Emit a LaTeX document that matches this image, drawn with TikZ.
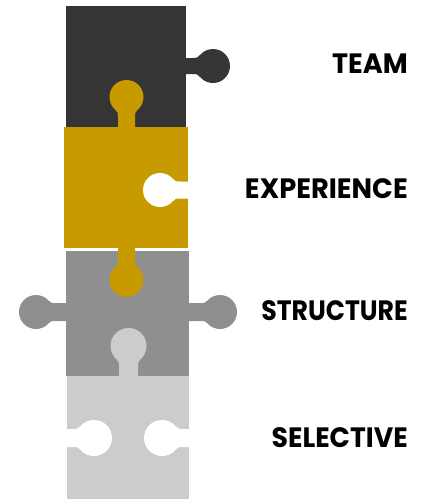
\documentclass[tikz,border=0pt]{standalone}
\usepackage{fontspec}
\setmainfont{Poppins}[BoldFont={* Bold}]
\definecolor{pdark}{RGB}{53,53,53}
\definecolor{pgold}{RGB}{199,155,0}
\definecolor{pgray}{RGB}{143,143,143}
\definecolor{plight}{RGB}{204,204,204}
% #1 colour, #2 distance of centre, #3 radius, #4 neck half width
\newcommand{\ptab}[4]{%
  \fill[#1] (#2,0) circle[radius=#3];
  \fill[#1] (-1,-#4) -- ({#2-#3-3},-#4)
    .. controls ({#2-#3+1},-#4) and ({#2+#3*cos(220)-2},{#3*sin(220)+2.3}) ..
    ({#2+#3*cos(220)},{#3*sin(220)})
    -- ({#2+#3*cos(220)},{-#3*sin(220)})
    .. controls ({#2+#3*cos(220)-2},{-#3*sin(220)-2.3}) and ({#2-#3+1},#4) ..
    ({#2-#3-3},#4) -- (-1,#4) -- cycle;}
\tikzset{lbl/.style={anchor=base east,inner sep=0pt,font=\bfseries\fontsize{28}{28}\selectfont}}
\begin{document}
\begin{tikzpicture}[x=1pt,y=-1pt]
\useasboundingbox (0,0) rectangle (427,499);
% piece bodies
\fill[pdark] (66,6) rectangle (186,127);
\fill[pgold] (64,127) rectangle (188,248);
\fill[pgray] (66,251) rectangle (189,376);
\fill[plight] (67,376) rectangle (189,499);
% tabs
\begin{scope}[shift={(186,66)}]\ptab{pdark}{27}{17}{8}\end{scope}
\begin{scope}[shift={(126.5,127)},rotate=90]\ptab{pgold}{30}{17}{8.5}\end{scope}
\begin{scope}[shift={(126.5,248)},rotate=-90]\ptab{pgold}{32}{17}{8.5}\end{scope}
\begin{scope}[shift={(66,312)},rotate=180]\ptab{pgray}{30}{17}{9}\end{scope}
\begin{scope}[shift={(189,312)}]\ptab{pgray}{31}{17}{9}\end{scope}
\begin{scope}[shift={(128.5,376)},rotate=90]\ptab{plight}{30}{18}{9.5}\end{scope}
% holes
\begin{scope}[shift={(188,190)},rotate=180]\ptab{white}{28}{17}{8.5}\end{scope}
\begin{scope}[shift={(67,438)}]\ptab{white}{27}{18}{9}\end{scope}
\begin{scope}[shift={(189,438)},rotate=180]\ptab{white}{27}{18}{9}\end{scope}
% labels
\node[lbl] (team) at (408,73) {\scalebox{0.97}[1]{TEAM}};
\node[lbl] (exp) at (408,198) {\scalebox{0.975}[1]{EXPERIENCE}};
\node[lbl] (str) at (408,320) {\scalebox{0.9}[1]{STRUCTURE}};
\node[lbl] (sel) at (408,447) {\scalebox{0.955}[1]{SELECTIVE}};
\end{tikzpicture}
\end{document}
